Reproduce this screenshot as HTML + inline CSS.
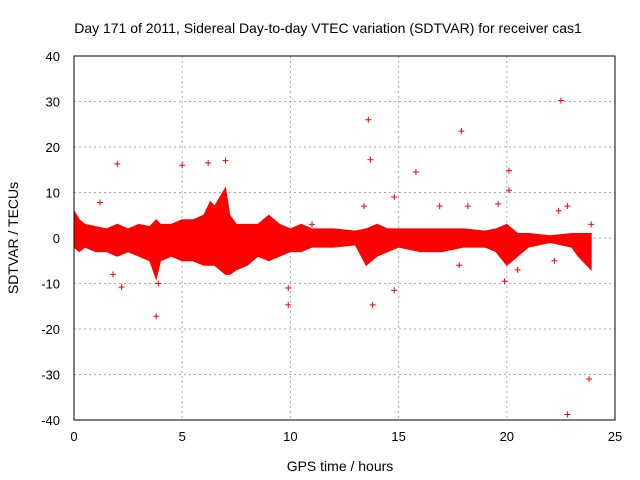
<!DOCTYPE html>
<html><head><meta charset="utf-8"><style>
body{margin:0;background:#fff}
svg{display:block;font-family:"Liberation Sans",sans-serif}
</style></head><body>
<svg id="chart" width="640" height="480">
<text x="328" y="33" font-size="14" text-anchor="middle">Day 171 of 2011, Sidereal Day-to-day VTEC variation (SDTVAR) for receiver cas1</text>
<text x="340" y="471" font-size="14" text-anchor="middle">GPS time / hours</text>
<text transform="translate(18,238) rotate(-90)" font-size="14" text-anchor="middle">SDTVAR / TECUs</text>
<g id="grid"></g><g id="ticks"></g><g id="band"></g><g id="pts"></g>
<rect x="74" y="56" width="541" height="364" fill="none" stroke="#000"/>
</svg>
<script>
const xTicks=[0,5,10,15,20,25];
const yTicks=[-40,-30,-20,-10,0,10,20,30,40];
const bandHours=[0,0.25,0.5,1,1.5,2,2.5,3,3.5,3.8,4,4.5,5,5.5,6,6.3,6.5,7,7.2,7.5,8,8.5,9,9.5,10,10.5,11,12,13,13.5,14,14.5,15,16,17,18,19,19.5,20,20.5,21,22,23,23.3,23.9];
const bandUpper=[6,4,3,2.5,2,3,2,3,2.5,4,3,3,4,4,5,8,7,11,5,3,3,3,5,3,2,3,2,2,1.5,2,3,2,2,2,2,2,1.5,2,3,1,1,0.5,1,1,1];
const bandLower=[-2,-3,-2,-3,-3,-4,-3,-4,-5,-9,-5,-4,-5,-5,-6,-6,-6,-8,-8,-7,-6,-4,-5,-4,-3,-3,-2,-2,-1.5,-6,-4,-3,-2,-3,-3,-2,-2,-3,-6,-4,-2,-1,-2,-4,-7];
const outHours=[2,5,6.2,7,1.2,13.6,13.7,17.9,15.8,14.8,20.1,20.1,22.5,3.8,2.2,9.9,9.9,13.8,14.8,17.8,19.9,23.8,22.8,22.8,22.4,19.6,18.2,16.9,13.4,11,3.9,1.8,20.5,22.2,23.9];
const outValues=[16.3,16,16.5,17,7.8,26,17.2,23.5,14.5,9,14.8,10.5,30.2,-17.2,-10.8,-11,-14.7,-14.7,-11.5,-6,-9.5,-31,-38.8,7,6,7.5,7,7,7,3,-10,-8,-7,-5,3];
const NS="http://www.w3.org/2000/svg";
const X=v=>74+v*(541/25), Y=v=>238-v*(364/80);
function mk(t,a,p){const e=document.createElementNS(NS,t);for(const k in a)e.setAttribute(k,a[k]);document.getElementById(p).appendChild(e);return e;}
xTicks.forEach(t=>{
 if(t>0&&t<25){const g=mk('line',{x1:X(t),x2:X(t),y1:56,y2:420,stroke:'#aaa','stroke-dasharray':'2,3'},'grid');
 
 }
 const l=mk('text',{x:X(t),y:441,'font-size':13,'text-anchor':'middle'},'ticks');l.textContent=t;
 
 
});
yTicks.forEach(t=>{
 if(t>-40&&t<40){const g=mk('line',{x1:74,x2:615,y1:Y(t),y2:Y(t),stroke:'#aaa','stroke-dasharray':'2,3'},'grid');
 
 }
 const l=mk('text',{x:60,y:Y(t)+5,'font-size':13,'text-anchor':'end'},'ticks');l.textContent=t;
 
 
});
let d='';bandHours.forEach((h,i)=>d+=(i?'L':'M')+X(h)+','+Y(bandUpper[i]));
for(let i=bandHours.length-1;i>=0;i--)d+='L'+X(bandHours[i])+','+Y(bandLower[i]);
const b=mk('path',{d:d+'Z',fill:'#f00',stroke:'#f00','stroke-width':1},'band');


outHours.forEach((h,i)=>{const x=X(h),y=Y(outValues[i]);
 const p=mk('path',{d:`M${x-3},${y}H${x+3}M${x},${y-3}V${y+3}`,stroke:'#f00','stroke-width':1},'pts');
 
 
});
</script>
</body></html>
